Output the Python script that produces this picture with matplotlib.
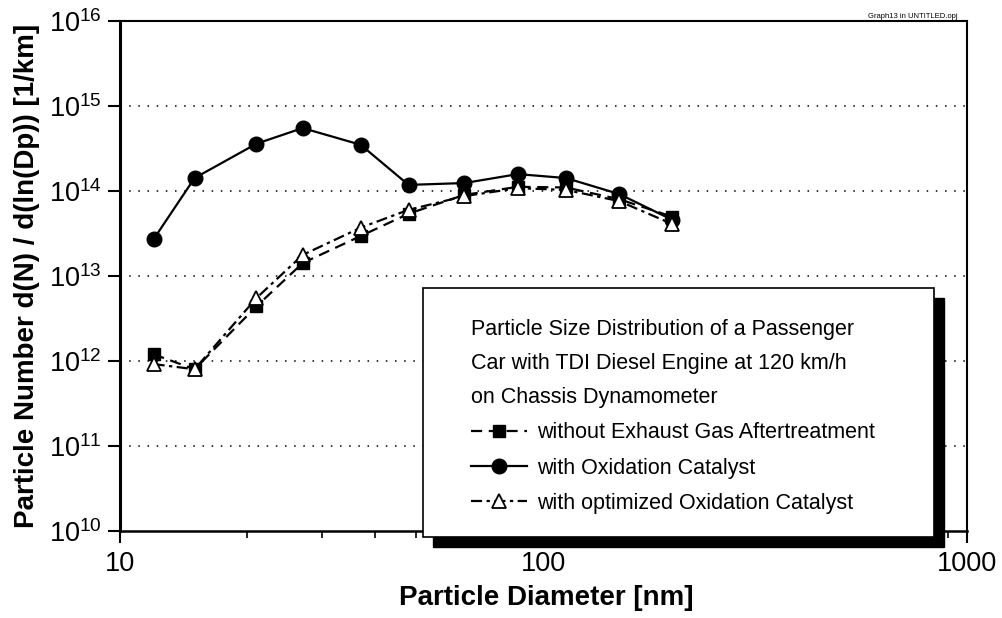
import math
import matplotlib
matplotlib.use("Agg")
import matplotlib.pyplot as plt
from matplotlib import font_manager
from matplotlib.patches import Rectangle
from matplotlib.ticker import LogLocator, NullLocator, FixedLocator, FuncFormatter

# ---------------- data ----------------
diameter_nm = [12, 15, 21, 27, 37, 48, 65, 87, 113, 151, 201]
without_aftertreatment = [1.2e12, 8.0e11, 4.4e12, 1.42e13, 2.95e13, 5.4e13, 9.0e13, 1.12e14, 1.10e14, 8.0e13, 5.0e13]
with_ox_catalyst = [2.7e13, 1.42e14, 3.6e14, 5.5e14, 3.5e14, 1.18e14, 1.24e14, 1.58e14, 1.42e14, 9.2e13, 4.6e13]
with_opt_ox_catalyst = [9.2e11, 8.0e11, 5.5e12, 1.77e13, 3.7e13, 6.0e13, 8.7e13, 1.08e14, 1.03e14, 7.6e13, 4.1e13]

series_labels = ["without Exhaust Gas Aftertreatment",
                 "with Oxidation Catalyst",
                 "with optimized Oxidation Catalyst"]
legend_title = ("Particle Size Distribution of a Passenger\n"
                "Car with TDI Diesel Engine at 120 km/h\n"
                "on Chassis Dynamometer")
x_ticks = [10, 100, 1000]
y_ticks = [1e10, 1e11, 1e12, 1e13, 1e14, 1e15, 1e16]
xlabel = "Particle Diameter [nm]"
ylabel = "Particle Number d(N) / d(ln(Dp)) [1/km]"
corner_note = "Graph13 in UNTITLED.opj"

# ---------------- fonts ----------------
names = {f.name for f in font_manager.fontManager.ttflist}
BASE = "Liberation Sans" if "Liberation Sans" in names else "DejaVu Sans"
NARROW = "Liberation Sans Narrow" if "Liberation Sans Narrow" in names else BASE
plt.rcParams["font.family"] = [BASE, "DejaVu Sans"]
plt.rcParams["mathtext.fontset"] = "custom"
plt.rcParams["mathtext.rm"] = BASE
plt.rcParams["mathtext.it"] = BASE
plt.rcParams["mathtext.bf"] = BASE + ":bold"

W, H = 1003, 618
fig = plt.figure(figsize=(W / 100, H / 100), dpi=100)
L, R, T, B = 120, 967, 21, 531
ax = fig.add_axes([L / W, 1 - B / H, (R - L) / W, (B - T) / H])

lw = 1.6
l1, = ax.plot(diameter_nm, without_aftertreatment, color="black", lw=lw,
              linestyle=(0, (5, 3)), marker="s", ms=8.5, mfc="black", mec="black", zorder=3)
l2, = ax.plot(diameter_nm, with_ox_catalyst, color="black", lw=lw,
              linestyle="-", marker="o", ms=10.5, mfc="black", mec="black", zorder=4)
l3, = ax.plot(diameter_nm, with_opt_ox_catalyst, color="black", lw=lw,
              linestyle=(0, (5, 2, 1.5, 2)), marker="^", ms=10.5, mfc="white", mec="black",
              mew=1.3, zorder=5)

ax.set_xscale("log")
ax.set_yscale("log")
ax.set_xlim(10, 1000)
ax.set_ylim(1e10, 1e16)

ax.xaxis.set_major_locator(FixedLocator(x_ticks))
ax.xaxis.set_minor_locator(LogLocator(base=10, subs=range(2, 10)))
ax.xaxis.set_major_formatter(FuncFormatter(lambda v, p: f"{v:g}"))
ax.xaxis.set_minor_formatter(FuncFormatter(lambda v, p: ""))
ax.yaxis.set_major_locator(FixedLocator(y_ticks))
ax.yaxis.set_minor_locator(NullLocator())
ax.yaxis.set_major_formatter(FuncFormatter(
    lambda v, p: r"$\mathregular{10^{%d}}$" % round(math.log10(v))))

ax.tick_params(axis="x", which="major", direction="out", length=8.5, width=1.5,
               pad=6, labelsize=19.5)
ax.tick_params(axis="x", which="minor", direction="out", length=5, width=1.2)
ax.tick_params(axis="y", which="major", direction="out", length=9, width=1.5,
               pad=4, labelsize=19.5)

for s in ["top", "right"]:
    ax.spines[s].set_linewidth(1.5)
ax.spines["left"].set_linewidth(2.2)
ax.spines["bottom"].set_linewidth(1.8)

for yv in y_ticks[1:-1]:
    ax.axhline(yv, color="black", lw=1.1, linestyle=(0, (1, 5)), zorder=1)

fig.text(27 / W, 1 - 276 / H, ylabel, rotation=90, ha="center", va="center",
         fontsize=20, fontweight="bold")
fig.text(546 / W, 1 - 598 / H, xlabel, ha="center", va="center",
         fontsize=20, fontweight="bold")
fig.text(958 / W, 1 - 16 / H, corner_note, ha="right", va="center",
         fontsize=5.5, family=NARROW)

# legend box with heavy shadow
bx0, by0, bx1, by1 = 423, 288, 934, 537
sh = 10
fig.add_artist(Rectangle(((bx0 + sh) / W, 1 - (by1 + sh) / H), (bx1 - bx0) / W,
                         (by1 - by0) / H, transform=fig.transFigure,
                         fc="black", ec="black", zorder=6))
fig.add_artist(Rectangle((bx0 / W, 1 - by1 / H), (bx1 - bx0) / W, (by1 - by0) / H,
                         transform=fig.transFigure, fc="white", ec="black", lw=1.2,
                         zorder=7))
fs_leg = 15.5
leg = fig.legend([l1, l2, l3], series_labels, title=legend_title,
                 loc="upper left", bbox_to_anchor=(471 / W, 1 - 319 / H),
                 frameon=False, borderpad=0, borderaxespad=0, numpoints=1,
                 prop={"family": NARROW, "size": fs_leg},
                 title_fontproperties={"family": NARROW, "size": fs_leg},
                 alignment="left", labelspacing=0.66, handlelength=2.6,
                 handletextpad=0.45)
leg.set_zorder(8)
leg.get_title().set_linespacing(1.82)

fig.savefig("out.png", dpi=100)
